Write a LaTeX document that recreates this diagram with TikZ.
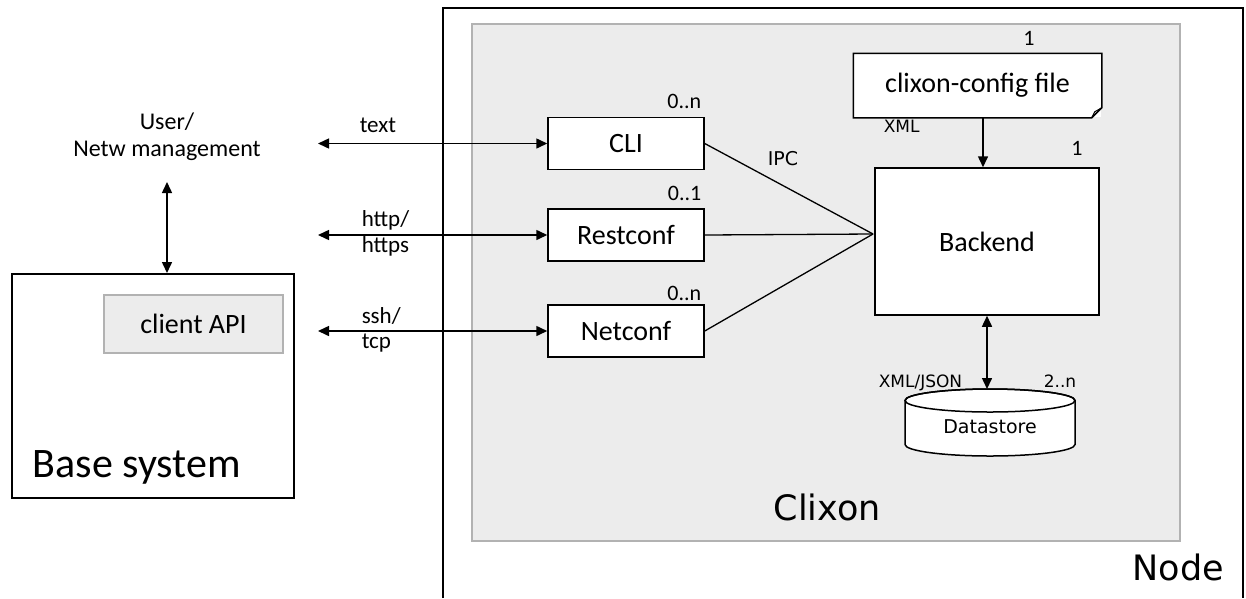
\documentclass[tikz,border=0pt]{standalone}
\usepackage{fontspec}
\setmainfont{Carlito}
\newfontfamily\dv{DejaVu Sans}
\usetikzlibrary{arrows.meta}
\begin{document}
\begin{tikzpicture}[x=1pt,y=-1pt, line width=1.5pt,
  box/.style={draw, fill=white, minimum width=156pt, minimum height=52pt, inner sep=0pt, font=\fontsize{28}{32}\selectfont},
  lbl/.style={inner sep=0pt, font=\fontsize{23}{27}\selectfont},
  mult/.style={inner sep=0pt, font=\fontsize{22}{26}\selectfont},
  small/.style={inner sep=0pt, font=\dv\fontsize{17}{20}\selectfont},
  tip/.tip={Triangle[length=11pt,width=10pt]},
  arr/.style={-tip},
  darr/.style={tip-tip},
  graybox/.style={draw=gray!60, fill=gray!15, line width=2pt},
]
\useasboundingbox (0,0) rectangle (1246,598);
\fill[white] (0,0) rectangle (1246,598);

% Node container
\draw (443,598) -- (443,8) -- (1243,8) -- (1243,598);
\node[inner sep=0pt, anchor=base west, font=\dv\fontsize{35}{40}\selectfont] (nodelbl) at (1132,580) {Node};

% Clixon container
\draw[graybox] (472,24) rectangle (1180,541);
\node[inner sep=0pt, anchor=base west, font=\dv\fontsize{35}{40}\selectfont] (clixonlbl) at (773,520) {Clixon};

% Base system
\node[draw, minimum width=282pt, minimum height=224pt, anchor=north west] (base) at (11,273) {};
\node[inner sep=0pt, anchor=base west, font=\fontsize{42}{46}\selectfont] (baselbl) at (32,477) {Base system};
\node[graybox, line width=1.5pt, minimum width=179pt, minimum height=58pt, font=\fontsize{28}{32}\selectfont] (api) at (193.5,324) {client API};

% User
\node[align=center, inner sep=0pt, font=\fontsize{24}{27}\selectfont] (user) at (167,137) {User/\\Netw management};
\coordinate (u1) at (167,182);
\draw[darr] (u1) -- (u1 |- base.north);

% Front-ends
\node[box] (cli) at (626,143.5) {CLI};
\node[box] (rest) at (626,235) {Restconf};
\node[box] (net) at (626,331) {Netconf};

\coordinate (lcli) at (318,143.5);
\coordinate (lrest) at (318,235);
\coordinate (lnet) at (318,331);
\draw[darr] (lcli) -- (cli.west);
\draw[darr] (lrest) -- (rest.west);
\draw[darr] (lnet) -- (net.west);

\node[lbl, anchor=base west] (ttext) at (359,132) {text};
\node[lbl, anchor=base west] (thttp) at (361,226) {http/};
\node[lbl, anchor=base west] (thttps) at (361,252) {https};
\node[lbl, anchor=base west] (tssh) at (361,323) {ssh/};
\node[lbl, anchor=base west] (ttcp) at (361,348) {tcp};

\node[mult, anchor=base east] (m1) at (702,108) {0..n};
\node[mult, anchor=base east] (m2) at (702,200) {0..1};
\node[mult, anchor=base east] (m3) at (702,300) {0..n};

% Backend
\node[draw, fill=white, minimum width=224pt, minimum height=147pt, inner sep=0pt, font=\fontsize{28}{32}\selectfont] (back) at (987,241.5) {Backend};
\node[mult, anchor=base] (m4) at (1077,155) {1};

% IPC lines
\coordinate (ipc) at (873,234);
\draw[line width=1.3pt] (cli.east) -- (ipc);
\draw[line width=1.3pt] (rest.east) -- (ipc);
\draw[line width=1.3pt] (net.east) -- (ipc);
\node[small, font=\dv\fontsize{19}{22}\selectfont, anchor=base west] (ipclbl) at (767,165) {IPC};

% Config file
\node[minimum width=247pt, minimum height=63pt, inner sep=0pt, fill=white, font=\fontsize{28}{32}\selectfont] (cfg) at (977.5,85.5) {clixon-config file};
\draw (cfg.north west) -- (cfg.north east) -- ([yshift=10pt]cfg.south east) -- ([xshift=-10pt]cfg.south east) -- (cfg.south west) -- cycle;
\draw[line width=1pt] ([xshift=-10pt]cfg.south east) -- ([xshift=-7pt,yshift=6pt]cfg.south east) -- ([yshift=10pt]cfg.south east);
\node[mult, anchor=base] (m5) at (1029,45) {1};
\node[small, anchor=base west] (xml) at (883,132) {XML};
\coordinate (c1) at (983,117);
\draw[arr] (c1) -- (c1 |- back.north);

% Datastore
\draw[fill=white] (905,400.5) -- (905,444.5) arc[start angle=180,end angle=360,x radius=85pt,y radius=11.5pt] -- (1075,400.5) arc[start angle=0,end angle=180,x radius=85pt,y radius=11.5pt] -- cycle;
\draw (990,400.5) ellipse[x radius=85pt,y radius=11.5pt];
\node[inner sep=0pt, anchor=base, font=\dv\fontsize{19}{22}\selectfont] (ds) at (990,433) {Datastore};
\coordinate (dstop) at (987,389);
\draw[darr] (back.south) -- (back.south |- dstop);
\node[small, anchor=base west] (xmljson) at (878,387) {XML/JSON};
\node[small, anchor=base east] (m6) at (1077,387) {2..n};
\end{tikzpicture}
\end{document}
